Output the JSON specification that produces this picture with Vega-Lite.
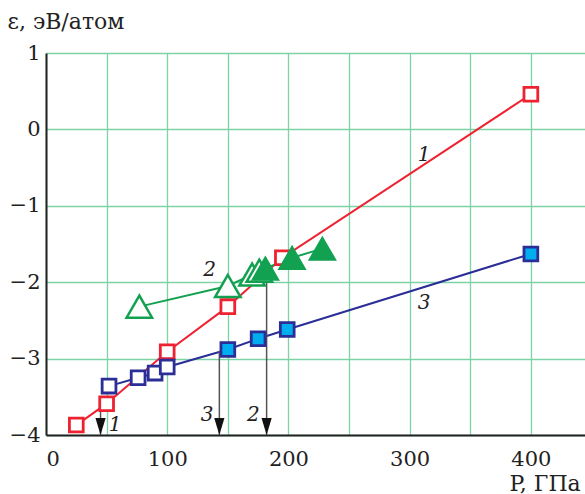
{
  "$schema": "https://vega.github.io/schema/vega-lite/v6.json",
  "autosize": {"type": "none"},
  "padding": {"left": 46, "top": 53, "right": 0, "bottom": 59},
  "width": 545,
  "height": 382,
  "background": "white",
  "view": {"stroke": null},
  "config": {
    "font": "DejaVu Serif",
    "axis": {
      "labelFont": "DejaVu Serif",
      "labelFontSize": 21,
      "labelColor": "#222",
      "titleFont": "DejaVu Serif",
      "titleFontSize": 22,
      "titleFontWeight": "normal",
      "titleColor": "#222",
      "gridColor": "#7dd3a6",
      "gridWidth": 1.3,
      "gridOpacity": 1,
      "domainColor": "#222",
      "domainWidth": 2,
      "ticks": false
    }
  },
  "datasets": {
    "pts": [
      {"series": "1", "state": "open", "P": 25, "E": -3.87},
      {"series": "1", "state": "open", "P": 50, "E": -3.59},
      {"series": "1", "state": "open", "P": 100, "E": -2.91},
      {"series": "1", "state": "open", "P": 150, "E": -2.32},
      {"series": "1", "state": "open", "P": 195, "E": -1.68},
      {"series": "1", "state": "open", "P": 400, "E": 0.46},
      {"series": "3", "state": "open", "P": 52, "E": -3.36},
      {"series": "3", "state": "open", "P": 76, "E": -3.25},
      {"series": "3", "state": "open", "P": 90, "E": -3.19},
      {"series": "3", "state": "open", "P": 100, "E": -3.11},
      {"series": "3", "state": "filled", "P": 150, "E": -2.88},
      {"series": "3", "state": "filled", "P": 175, "E": -2.74},
      {"series": "3", "state": "filled", "P": 199, "E": -2.62},
      {"series": "3", "state": "filled", "P": 400, "E": -1.63},
      {"series": "2", "state": "open", "P": 77, "E": -2.32},
      {"series": "2", "state": "open", "P": 150, "E": -2.05},
      {"series": "2", "state": "open", "P": 170, "E": -1.9},
      {"series": "2", "state": "open", "P": 176, "E": -1.85},
      {"series": "2", "state": "filled", "P": 181, "E": -1.82},
      {"series": "2", "state": "filled", "P": 203, "E": -1.68},
      {"series": "2", "state": "filled", "P": 228, "E": -1.56}
    ],
    "arrows": [
      {"n": "1", "P": 45, "E0": -3.55, "E1": -4},
      {"n": "3", "P": 143, "E0": -2.9, "E1": -4},
      {"n": "2", "P": 182, "E0": -1.9, "E1": -4}
    ],
    "labels": [
      {"t": "1", "P": 312, "E": -0.34},
      {"t": "2", "P": 135, "E": -1.84},
      {"t": "3", "P": 312, "E": -2.27},
      {"t": "1", "P": 57, "E": -3.87},
      {"t": "3", "P": 133, "E": -3.74},
      {"t": "2", "P": 171, "E": -3.74}
    ]
  },
  "encoding": {
    "x": {
      "field": "P", "type": "quantitative",
      "scale": {"domain": [0, 449.6], "nice": false, "zero": false},
      "axis": {
        "values": [0, 50, 100, 150, 200, 250, 300, 350, 400],
        "labelExpr": "datum.value % 100 === 0 ? datum.label : ''",
        "labelPadding": 13,
        "title": "P, ГПа",
        "titleAnchor": null,
        "titleAlign": "left",
        "titleBaseline": "alphabetic",
        "titleX": 463,
        "titleY": 55
      }
    },
    "y": {
      "field": "E", "type": "quantitative",
      "scale": {"domain": [-4, 1], "nice": false, "zero": false},
      "axis": {
        "values": [-4, -3, -2, -1, 0, 1],
        "labelPadding": 6,
        "title": "ε, эВ/атом",
        "titleAngle": 0,
        "titleAnchor": null,
        "titleAlign": "left",
        "titleBaseline": "alphabetic",
        "titleX": -39,
        "titleY": -25
      }
    }
  },
  "layer": [
    {
      "mark": {"type": "rule", "color": "#555", "strokeWidth": 2.5},
      "encoding": {"y": {"datum": 1}, "x": null}
    },
    {
      "data": {"name": "pts"},
      "mark": {"type": "line", "strokeWidth": 2},
      "encoding": {
        "color": {"field": "series", "type": "nominal", "legend": null,
          "scale": {"domain": ["1", "2", "3"], "range": ["#ee2230", "#12a150", "#2a2e96"]}},
        "order": {"field": "P", "type": "quantitative"}
      }
    },
    {
      "data": {"name": "arrows"},
      "mark": {"type": "rule", "color": "#555", "strokeWidth": 1.5},
      "encoding": {
        "y": {"field": "E0", "type": "quantitative"},
        "y2": {"field": "E1"}
      }
    },
    {
      "data": {"name": "arrows"},
      "mark": {"type": "point", "shape": "M-0.3,-1L0.3,-1L0,0Z", "filled": true, "color": "#111", "size": 1156, "opacity": 1},
      "encoding": {
        "y": {"field": "E1", "type": "quantitative"}
      }
    },
    {
      "data": {"name": "pts"},
      "transform": [{"filter": "datum.series !== '2' && datum.state === 'open'"}],
      "mark": {"type": "point", "shape": "square", "size": 190, "strokeWidth": 2.8, "fill": "white", "fillOpacity": 1, "opacity": 1},
      "encoding": {
        "stroke": {"field": "series", "type": "nominal", "legend": null,
          "scale": {"domain": ["1", "3"], "range": ["#ee2230", "#2a2e96"]}}
      }
    },
    {
      "data": {"name": "pts"},
      "transform": [{"filter": "datum.series === '3' && datum.state === 'filled'"}],
      "mark": {"type": "point", "shape": "square", "size": 190, "strokeWidth": 2.8, "fill": "#00aeef", "stroke": "#2a2e96", "fillOpacity": 1, "opacity": 1}
    },
    {
      "data": {"name": "pts"},
      "transform": [{"filter": "datum.series === '2' && datum.state === 'open'"}],
      "mark": {"type": "point", "shape": "triangle-up", "size": 650, "strokeWidth": 2.5, "fill": "white", "stroke": "#12a150", "fillOpacity": 1, "opacity": 1}
    },
    {
      "data": {"name": "pts"},
      "transform": [{"filter": "datum.series === '2' && datum.state === 'filled'"}],
      "mark": {"type": "point", "shape": "triangle-up", "size": 700, "strokeWidth": 1.5, "fill": "#12a150", "stroke": "#12a150", "fillOpacity": 1, "opacity": 1}
    },
    {
      "data": {"name": "labels"},
      "mark": {"type": "text", "font": "DejaVu Serif", "fontStyle": "italic", "fontSize": 20, "color": "#222"},
      "encoding": {"text": {"field": "t"}}
    }
  ]
}
